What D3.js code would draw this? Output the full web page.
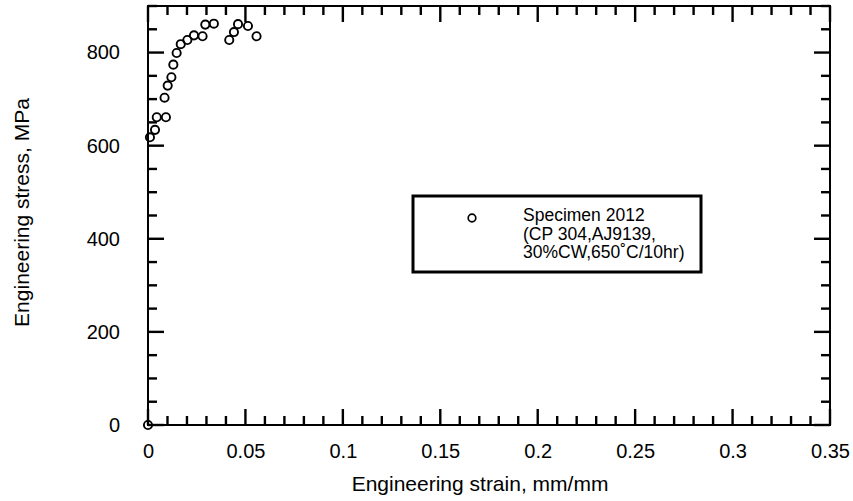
<!DOCTYPE html>
<html>
<head>
<meta charset="utf-8">
<script src="https://cdn.jsdelivr.net/npm/d3@7"></script>
<style>
  html, body { margin: 0; padding: 0; background: #fff; }
  svg { display: block; }
  text { font-family: "Liberation Sans", Arial, Helvetica, sans-serif; fill: #000; }
</style>
</head>
<body>
<svg id="chart" width="853" height="501"></svg>
<script>
// Tensile test data: engineering strain (mm/mm) and engineering stress (MPa)
const strain = [0, 0.001, 0.0036, 0.0045, 0.0092, 0.0085, 0.0101, 0.012, 0.013, 0.0147,
                0.0168, 0.0202, 0.0236, 0.028, 0.0294, 0.0338, 0.0417, 0.0441, 0.0462, 0.0513, 0.0557];
const stress = [0, 618, 634, 661, 661, 703, 729, 747, 774, 799,
                818, 827, 837, 835, 860, 862, 827, 844, 861, 857, 835];

const xMajorTicks = [0, 0.05, 0.1, 0.15, 0.2, 0.25, 0.3, 0.35];
const xTickLabels = ["0", "0.05", "0.1", "0.15", "0.2", "0.25", "0.3", "0.35"];
const xMinorTicks = [0, 0.01, 0.02, 0.03, 0.04, 0.05, 0.06, 0.07, 0.08, 0.09,
                     0.1, 0.11, 0.12, 0.13, 0.14, 0.15, 0.16, 0.17, 0.18, 0.19,
                     0.2, 0.21, 0.22, 0.23, 0.24, 0.25, 0.26, 0.27, 0.28, 0.29,
                     0.3, 0.31, 0.32, 0.33, 0.34, 0.35];
const yMajorTicks = [0, 200, 400, 600, 800];
const yTickLabels = ["0", "200", "400", "600", "800"];
const yMinorTicks = [0, 50, 100, 150, 200, 250, 300, 350, 400, 450,
                     500, 550, 600, 650, 700, 750, 800, 850, 900];

const legendLines = ["Specimen 2012", "(CP 304,AJ9139,", "30%CW,650\u02DAC/10hr)"];
const xTitle = "Engineering strain, mm/mm";
const yTitle = "Engineering stress, MPa";

const svg = d3.select("#chart");
const plot = { left: 148, right: 830, top: 6, bottom: 425 };

const x = d3.scaleLinear().domain([0, 0.35]).range([plot.left, plot.right]);
const y = d3.scaleLinear().domain([0, 900]).range([plot.bottom, plot.top]);

const MINOR = 9, MAJOR = 16;
const isMajorX = v => xMajorTicks.some(m => Math.abs(m - v) < 1e-9);
const isMajorY = v => yMajorTicks.indexOf(v) >= 0;

// Tick labels via axis generators
function labelsOnly(g) {
  g.select(".domain").remove();
  g.selectAll(".tick line").remove();
  g.selectAll(".tick text").style("font-size", "20px").attr("fill", "#000");
}
svg.append("g").attr("transform", `translate(0,${plot.bottom})`)
  .call(d3.axisBottom(x).tickValues(xMajorTicks).tickSize(0).tickPadding(19)
        .tickFormat((d, i) => xTickLabels[i]))
  .call(labelsOnly);
svg.append("g").attr("transform", `translate(${plot.left},0)`)
  .call(d3.axisLeft(y).tickValues(yMajorTicks).tickSize(0).tickPadding(28)
        .tickFormat((d, i) => yTickLabels[i]))
  .call(labelsOnly);

// Plot frame
svg.append("rect")
  .attr("x", plot.left).attr("y", plot.top)
  .attr("width", plot.right - plot.left).attr("height", plot.bottom - plot.top)
  .attr("fill", "none").attr("stroke", "#000").attr("stroke-width", 2);

// Axis titles
svg.append("text")
  .attr("x", 480).attr("y", 491)
  .attr("text-anchor", "middle").style("font-size", "21px")
  .text(xTitle);
svg.append("text")
  .attr("transform", `translate(29,${(plot.top + plot.bottom) / 2 - 3}) rotate(-90)`)
  .attr("text-anchor", "middle").style("font-size", "21px")
  .text(yTitle);

// Data points (open circles)
svg.append("g").selectAll("circle")
  .data(strain.map((s, i) => [s, stress[i]]))
  .join("circle")
  .attr("cx", d => x(d[0])).attr("cy", d => y(d[1]))
  .attr("r", 4.1)
  .attr("fill", "none").attr("stroke", "#000").attr("stroke-width", 1.9);

// Legend
const legend = svg.append("g");
legend.append("rect")
  .attr("x", 413).attr("y", 196).attr("width", 288).attr("height", 76)
  .attr("fill", "#fff").attr("stroke", "#000").attr("stroke-width", 3);
legend.append("circle")
  .attr("cx", 472).attr("cy", 218).attr("r", 3.8)
  .attr("fill", "none").attr("stroke", "#000").attr("stroke-width", 1.7);
legend.selectAll("text.entry")
  .data(legendLines)
  .join("text")
  .attr("class", "entry")
  .attr("x", 523).attr("y", (d, i) => 221 + i * 18.5)
  .style("font-size", "17.5px")
  .text(d => d);

// Inward tick marks on all four sides of the frame
const tickLayer = svg.append("g");
function addTick(x1, y1, x2, y2) {
  tickLayer.append("line")
    .attr("x1", x1).attr("y1", y1).attr("x2", x2).attr("y2", y2)
    .attr("stroke", "#000").attr("stroke-width", 2.4);
}
xMinorTicks.forEach(v => {
  const len = isMajorX(v) ? MAJOR : MINOR;
  addTick(x(v), plot.bottom, x(v), plot.bottom - len);
  addTick(x(v), plot.top, x(v), plot.top + len);
});
yMinorTicks.forEach(v => {
  const len = isMajorY(v) ? MAJOR : MINOR;
  addTick(plot.left, y(v), plot.left + len, y(v));
  addTick(plot.right, y(v), plot.right - len, y(v));
});
</script>
</body>
</html>
